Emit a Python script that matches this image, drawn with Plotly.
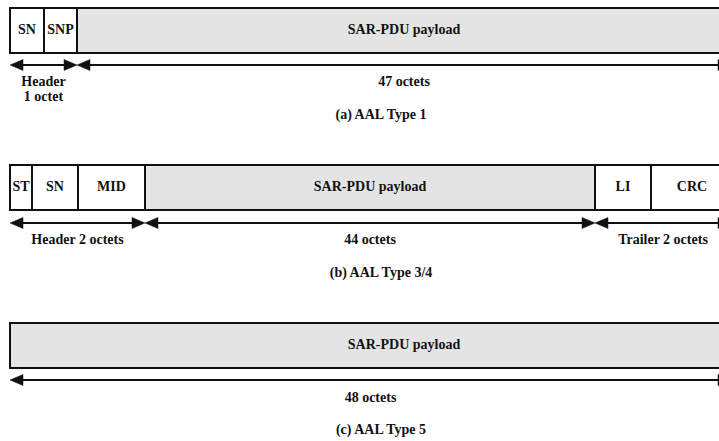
import plotly.graph_objects as go

# ---------------- data ----------------
captions = ["(a) AAL Type 1", "(b) AAL Type 3/4", "(c) AAL Type 5"]

t1_fields = ["SN", "SNP", "SAR-PDU payload"]
t34_fields = ["ST", "SN", "MID", "SAR-PDU payload", "LI", "CRC"]
t5_fields = ["SAR-PDU payload"]

t1_spans = ["Header<br>1 octet", "47 octets"]
t34_spans = ["Header 2 octets", "44 octets", "Trailer 2 octets"]
t5_spans = ["48 octets"]

payload_name = "SAR-PDU payload"

# ---------------- geometry (diagram units = pixels) ----------------
W, H = 719, 441
t1_edges = [10, 44, 77, 731]
t34_edges = [10, 32, 78, 145, 595, 651, 733]
t5_edges = [10, 731]
t1_span_edges = [10, 77, 731]
t34_span_edges = [10, 145, 595, 731]
t5_span_edges = [10, 731]
t5_label_x = [404]

box_tops = [8, 165, 323]
box_h = 45
arrow_ys = [65, 223, 380]
span_label_ys = [82, 240, 398]
caption_ys = [115, 273, 430]
caption_x = 381
line_gap = 15
head_len, head_half = 13, 5.5

FONT = "Liberation Serif"
GRAY = "#e4e4e4"
INK = "#111111"

rows = [
    (t1_fields, t1_edges, t1_spans, t1_span_edges, None),
    (t34_fields, t34_edges, t34_spans, t34_span_edges, None),
    (t5_fields, t5_edges, t5_spans, t5_span_edges, t5_label_x),
]

shapes = []
tx, ty, tt = [], [], []

for i, (fields, edges, spans, sedges, lx) in enumerate(rows):
    top = box_tops[i]
    bot = top + box_h
    for j, name in enumerate(fields):
        x0, x1 = edges[j], edges[j + 1]
        shapes.append(dict(type="rect", xref="x", yref="y", x0=x0, x1=x1, y0=top, y1=bot,
                           line=dict(color=INK, width=2),
                           fillcolor=GRAY if name == payload_name else "white", layer="below"))
        cx = lx[j] if lx is not None else (x0 + x1) / 2
        tx.append(cx); ty.append((top + bot) / 2); tt.append("<b>%s</b>" % name)
    ay = arrow_ys[i]
    for j, lab in enumerate(spans):
        a, b = sedges[j], sedges[j + 1]
        shapes.append(dict(type="line", xref="x", yref="y", x0=a + 2, x1=b - 2, y0=ay, y1=ay,
                           line=dict(color=INK, width=2)))
        shapes.append(dict(type="path", xref="x", yref="y",
                           path="M %g,%g L %g,%g L %g,%g Z" % (a, ay, a + head_len, ay - head_half, a + head_len, ay + head_half),
                           fillcolor=INK, line=dict(color=INK, width=0.5)))
        shapes.append(dict(type="path", xref="x", yref="y",
                           path="M %g,%g L %g,%g L %g,%g Z" % (b, ay, b - head_len, ay - head_half, b - head_len, ay + head_half),
                           fillcolor=INK, line=dict(color=INK, width=0.5)))
        lines = lab.split("<br>")
        for k, ln in enumerate(lines):
            tx.append((a + b) / 2); ty.append(span_label_ys[i] + k * line_gap); tt.append("<b>%s</b>" % ln)
    tx.append(caption_x); ty.append(caption_ys[i]); tt.append("<b>%s</b>" % captions[i])

fig = go.Figure(go.Scatter(x=tx, y=ty, text=tt, mode="text", textposition="middle center",
                           textfont=dict(family=FONT, size=14, color=INK), hoverinfo="skip"))

fig.update_layout(
    width=W, height=H, margin=dict(l=0, r=0, t=0, b=0),
    paper_bgcolor="white", plot_bgcolor="white", showlegend=False,
    shapes=shapes,
    xaxis=dict(range=[0, W], visible=False, fixedrange=True),
    yaxis=dict(range=[H, 0], visible=False, fixedrange=True),
    hovermode=False,
)

fig.write_html("out.html", config={"displayModeBar": False},
               post_script="document.body.style.margin='0';document.body.style.overflow='hidden';")
